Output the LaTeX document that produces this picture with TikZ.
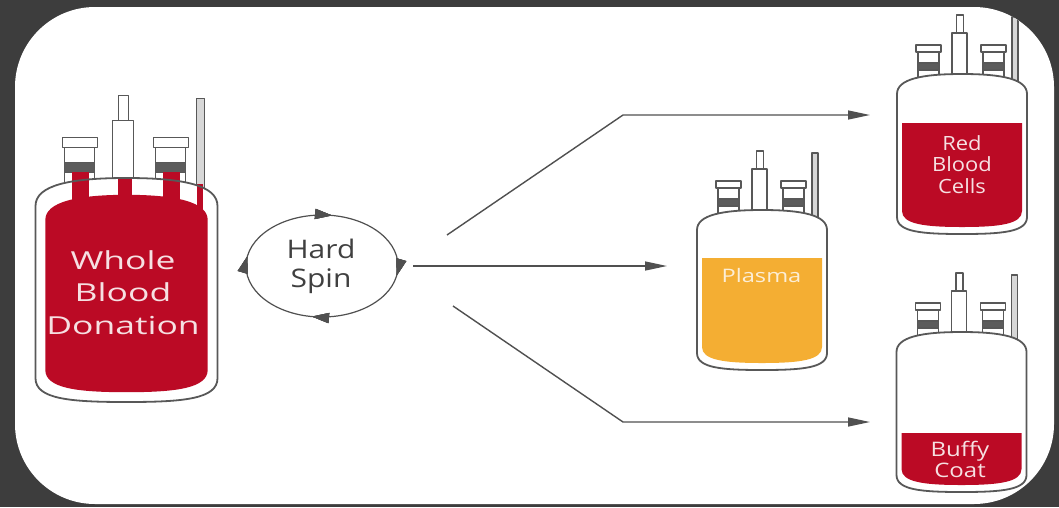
\documentclass[tikz,border=0pt]{standalone}
\usepackage{fontspec}
\setmainfont{Open Sans}
\usepackage{graphicx}
\usetikzlibrary{arrows.meta,decorations.markings}

\definecolor{backdrop}{RGB}{61,61,61}
\definecolor{blood}{RGB}{187,10,37}
\definecolor{plasmaorange}{RGB}{244,174,51}
\definecolor{linegray}{RGB}{88,88,88}
\definecolor{arrowgray}{RGB}{80,80,80}
\definecolor{bandgray}{RGB}{92,92,92}
\definecolor{rodgray}{RGB}{215,215,215}
\definecolor{labelwhite}{RGB}{246,224,226}
\definecolor{plasmatext}{RGB}{252,238,214}
\definecolor{spingray}{RGB}{64,64,64}

% bag outline, drawn around its top centre (y grows downwards)
\newcommand\bodyShape{(-65,20) .. controls (-65,5) and (-40,0) .. (0,0) .. controls (40,0) and (65,5) .. (65,20) -- (65,143) .. controls (65,158) and (40,160) .. (0,160) .. controls (-40,160) and (-65,158) .. (-65,143) -- cycle}
% contents of a bag, from a given level down to the bottom
\newcommand\fillShape[1]{(-60,#1) -- (60,#1) -- (60,137) .. controls (60,150) and (38,153) .. (0,153) .. controls (-38,153) and (-60,150) .. (-60,137) -- cycle}
% ports, tube and hanger rod on top of a bag
\newcommand\bottlePorts{%
  \draw[port, fill=rodgray] (50,-57) rectangle (56,14);
  \draw[port] (-5.5,-59) rectangle (1.5,-41);
  \draw[port] (-10,-41) rectangle (5,8);
  \foreach \a/\b in {-46/-21,19/44}{%
    \draw[port] (\a+2,-22) rectangle (\b-2,10);
    \draw[port, fill=bandgray] (\a+2,-11) rectangle (\b-2,-4);
    \draw[port] (\a,-29) rectangle (\b,-22);
  }%
}
% horizontally widened block of centred lines
\newcommand\stretchbox[2]{\scalebox{#1}[1]{\begin{tabular}[t]{@{}c@{}}#2\end{tabular}}}

\tikzset{
  port/.style={draw=linegray, fill=white, line width=1.1},
  shell/.style={draw=linegray, line width=1.8},
  flow/.style={draw=arrowgray, line width=1.4, -{Triangle[length=22pt,width=9pt]}},
  spintip/.style={decoration={markings, mark=at position #1 with {\arrow{Triangle[length=17pt,width=10pt]}}}, postaction=decorate},
  spinring/.style={draw=arrowgray, line width=1.2,
    spintip=0.025, spintip=0.275, spintip=0.525, spintip=0.775},
  txt/.style={inner sep=0, anchor=base},
}

\begin{document}
\begin{tikzpicture}[x=1pt, y=-1pt, line join=round]
\useasboundingbox (0,0) rectangle (1059,507);
\fill[backdrop] (0,0) rectangle (1059,507);
\fill[white, rounded corners=80] (15,7) rectangle (1054,504);

\begin{scope}
\clip[rounded corners=80] (15,7) rectangle (1054,504);

% whole blood bag
\begin{scope}[shift={(126.5,178)}, scale=1.4]
  \bottlePorts
  \fill[white] \bodyShape;
  \foreach \a/\b/\t in {-39/-27/-4, -6/4/-1, 26/38/-4, 50.5/54.5/4}
    \fill[blood] (\a,\t) rectangle (\b,24);
  \fill[blood] (-58,30) .. controls (-58,17) and (-35,12) .. (0,12) .. controls (35,12) and (58,17) .. (58,30) -- (58,137) .. controls (58,150) and (36,153) .. (0,153) .. controls (-36,153) and (-58,150) .. (-58,137) -- cycle;
  \draw[shell] \bodyShape;
\end{scope}

% plasma bag
\begin{scope}[shift={(762,210)}]
  \bottlePorts
  \fill[white] \bodyShape;
  \fill[plasmaorange] \fillShape{48};
  \draw[shell] \bodyShape;
\end{scope}

% red cell bag
\begin{scope}[shift={(962,74)}]
  \bottlePorts
  \fill[white] \bodyShape;
  \fill[blood] \fillShape{49};
  \draw[shell] \bodyShape;
\end{scope}

% buffy coat bag
\begin{scope}[shift={(961.5,332)}]
  \bottlePorts
  \fill[white] \bodyShape;
  \fill[blood] \fillShape{101};
  \draw[shell] \bodyShape;
\end{scope}
\end{scope}

% labels
\node[txt, font=\fontsize{24.8}{32.5}\selectfont, text=labelwhite] (wholeText) at (123,269)
  {\stretchbox{1.43}{Whole\\Blood\\Donation}};
\node[txt, font=\fontsize{18.6}{22}\selectfont, text=plasmatext] (plasmaText) at (761.5,282)
  {\stretchbox{1.27}{Plasma}};
\node[txt, font=\fontsize{19.6}{21}\selectfont, text=labelwhite] (rbcText) at (962,150.7)
  {\stretchbox{1.12}{Red\\Blood\\Cells}};
\node[txt, font=\fontsize{20}{21}\selectfont, text=labelwhite] (buffyText) at (960,456)
  {\stretchbox{1.2}{Buffy\\Coat}};

% centrifuge step
\node[txt, font=\fontsize{25.6}{29}\selectfont, text=spingray] (spin) at (321,258)
  {\stretchbox{1.17}{Hard\\Spin}};
\coordinate (spinCentre) at (322,266);
\draw[spinring] (spinCentre) ellipse [x radius=76, y radius=51];

% separation arrows
\coordinate (upStart) at (447,235);
\coordinate (upBend) at (623,115);
\coordinate (rbcIn) at (870,115);
\coordinate (midStart) at (413,266);
\coordinate (plasmaIn) at (667,266);
\coordinate (lowStart) at (453,306);
\coordinate (lowBend) at (623,422);
\coordinate (buffyIn) at (870,422);
\draw[flow] (upStart) -- (upBend) -- (rbcIn);
\draw[flow] (midStart) -- (plasmaIn);
\draw[flow] (lowStart) -- (lowBend) -- (buffyIn);
\end{tikzpicture}
\end{document}
